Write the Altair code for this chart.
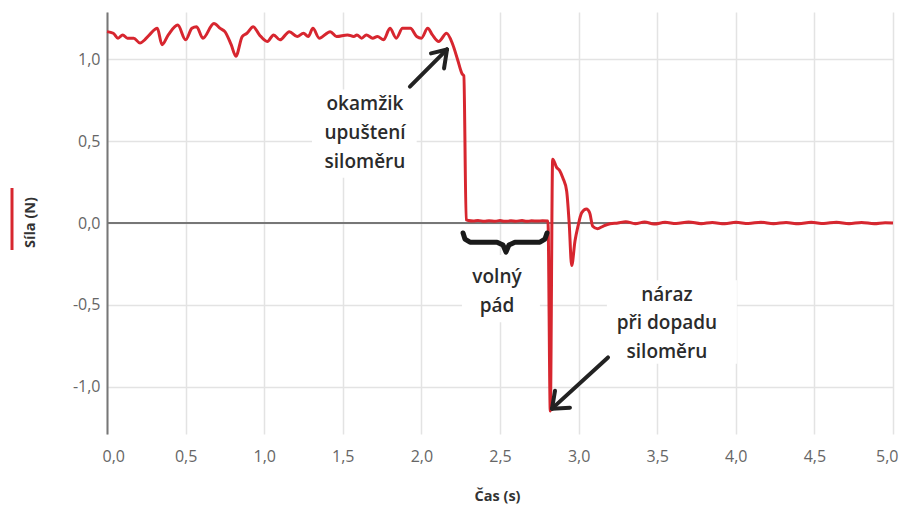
import altair as alt
import pandas as pd

# ---- measured series (time in s, force in N) ----
TIME = [0.00, 0.04, 0.07, 0.10, 0.13, 0.17, 0.21, 0.24, 0.27, 0.32, 0.35, 0.39, 0.45, 0.50,
        0.54, 0.57, 0.61, 0.68, 0.72, 0.75, 0.79, 0.82, 0.86, 0.89, 0.93, 0.97, 1.02, 1.06,
        1.10, 1.16, 1.21, 1.25, 1.28, 1.31, 1.35, 1.42, 1.46, 1.53, 1.57, 1.59, 1.62, 1.65,
        1.69, 1.72, 1.76, 1.80, 1.84, 1.88, 1.93, 1.97, 2.00, 2.04, 2.07, 2.11, 2.16, 2.20,
        2.23, 2.26, 2.27, 2.285, 2.30, 2.33, 2.36, 2.40, 2.43, 2.47, 2.50, 2.53, 2.57, 2.60,
        2.64, 2.67, 2.70, 2.74, 2.77, 2.805, 2.82, 2.835, 2.86, 2.88, 2.90, 2.924, 2.94,
        2.956, 2.977, 2.996, 3.02, 3.05, 3.07, 3.09, 3.12, 3.155, 3.20, 3.25, 3.30, 3.36,
        3.42, 3.48, 3.55, 3.62, 3.70, 3.78, 3.85, 3.93, 4.00, 4.08, 4.16, 4.24, 4.32, 4.40,
        4.48, 4.56, 4.64, 4.72, 4.80, 4.88, 4.95, 5.00]
FORCE = [1.17, 1.16, 1.13, 1.15, 1.13, 1.13, 1.10, 1.12, 1.15, 1.19, 1.09, 1.15, 1.21, 1.12,
         1.19, 1.20, 1.13, 1.22, 1.19, 1.17, 1.09, 1.02, 1.14, 1.16, 1.20, 1.15, 1.11, 1.15,
         1.12, 1.17, 1.14, 1.16, 1.14, 1.19, 1.13, 1.17, 1.14, 1.15, 1.14, 1.15, 1.13, 1.15,
         1.13, 1.14, 1.12, 1.19, 1.13, 1.19, 1.19, 1.14, 1.13, 1.19, 1.15, 1.11, 1.16, 1.09,
         1.00, 0.91, 0.90, 0.02, 0.015, 0.012, 0.016, 0.010, 0.014, 0.011, 0.015, 0.010, 0.013,
         0.011, 0.015, 0.010, 0.013, 0.012, 0.014, 0.012, -1.15, 0.39, 0.34, 0.32, 0.275,
         0.196, 0.0, -0.26, -0.11, -0.02, 0.063, 0.085, 0.063, -0.02, -0.035, -0.02, -0.005,
         0.0, 0.008, -0.004, 0.006, -0.006, 0.004, -0.003, 0.006, -0.004, 0.003, -0.005,
         0.004, -0.003, 0.005, -0.004, 0.003, -0.005, 0.004, -0.003, 0.005, -0.004, 0.003,
         -0.004, 0.002, 0.0]

X_TICKS = [0.0, 0.5, 1.0, 1.5, 2.0, 2.5, 3.0, 3.5, 4.0, 4.5, 5.0]
Y_TICKS = [-1.0, -0.5, 0.0, 0.5, 1.0]

# ---- annotations ----
ANN_TEXT = ["okamžik", "upuštení", "siloměru", "volný", "pád", "náraz", "při dopadu", "siloměru"]
ANN_T = [1.641, 1.641, 1.641, 2.481, 2.481, 3.562, 3.562, 3.562]
ANN_F = [0.730, 0.552, 0.374, -0.331, -0.509, -0.442, -0.613, -0.791]

# white boxes behind annotation text
BOX_T0 = [1.304, 2.258, 3.180]
BOX_T1 = [1.970, 2.754, 4.007]
BOX_F0 = [0.276, -0.196, -0.350]
BOX_F1 = [0.816, -0.607, -0.860]

# arrow segments (shaft + two head wings for each arrow)
ARR_T0 = [1.927, 2.163, 2.163, 3.187, 2.831, 2.831]
ARR_F0 = [0.834, 1.061, 1.061, -0.822, -1.135, -1.135]
ARR_T1 = [2.163, 2.061, 2.144, 2.831, 2.945, 2.850]
ARR_F1 = [1.061, 1.037, 0.945, -1.135, -1.129, -1.025]

# curly brace under the free fall part
BRACE_T = [2.265, 2.277, 2.309, 2.481, 2.519, 2.538, 2.557, 2.595, 2.754, 2.786, 2.799]
BRACE_F = [-0.061, -0.098, -0.117, -0.117, -0.135, -0.178, -0.135, -0.117, -0.117, -0.098, -0.061]

RED = "#d7262f"
FONT = "Open Sans"

line_df = pd.DataFrame({"t": TIME, "f": FORCE})
ann_df = pd.DataFrame({"t": ANN_T, "f": ANN_F, "label": ANN_TEXT})
box_df = pd.DataFrame({"t": BOX_T0, "t1": BOX_T1, "f": BOX_F0, "f1": BOX_F1})
arr_df = pd.DataFrame({"t": ARR_T0, "t1": ARR_T1, "f": ARR_F0, "f1": ARR_F1})
brace_df = pd.DataFrame({"t": BRACE_T, "f": BRACE_F, "i": list(range(len(BRACE_T)))})
zero_df = pd.DataFrame({"f": [0.0]})
mark_df = pd.DataFrame({"a": [0]})

xs = alt.Scale(domain=[0, 5], nice=False, zero=False)
ys = alt.Scale(domain=[-1.29, 1.29], nice=False, zero=False)
lab = "replace(replace(format(datum.value, '.1f'), '.', ','), '\u2212', '-')"

x_axis = alt.Axis(values=X_TICKS, labelExpr=lab, title="Čas (s)", grid=True,
                  gridColor="#e3e3e3", gridWidth=1.5, domain=False, ticks=False,
                  labelFlush=True, labelFlushOffset=5, labelPadding=14, labelFontSize=16,
                  labelColor="#666666", labelFont=FONT, titleFont=FONT, titleFontSize=14.5,
                  titleFontWeight="bold", titleColor="#333333", titleX=390, titleY=62,
                  titleBaseline="middle", titleAlign="center")
y_axis = alt.Axis(values=Y_TICKS, labelExpr=lab, title="Síla (N)", grid=True,
                  gridColor="#e3e3e3", gridWidth=1.5, domain=True, domainColor="#777777",
                  domainWidth=2, ticks=False, labelFlush=False, labelPadding=7,
                  labelFontSize=16, labelColor="#666666", labelFont=FONT, titleFont=FONT,
                  titleFontSize=14.5, titleFontWeight="bold", titleColor="#333333",
                  titleX=-77, titleY=210, titleAngle=270, titleBaseline="middle",
                  titleAlign="center")

X = alt.X("t:Q", scale=xs, axis=x_axis, title="Čas (s)")
Y = alt.Y("f:Q", scale=ys, axis=y_axis, title="Síla (N)")

base_line = alt.Chart(line_df).mark_line(color=RED, strokeWidth=3, strokeJoin="round",
                                         interpolate="monotone").encode(
    x=X, y=Y, order="t:Q",
)

boxes = alt.Chart(box_df).mark_rect(color="white").encode(
    x=X, x2="t1:Q", y=Y, y2="f1:Q",
)

zero = alt.Chart(zero_df).mark_rule(color="#777777", strokeWidth=2).encode(y=Y)

texts = alt.Chart(ann_df).mark_text(font=FONT, fontSize=19, fontWeight=600, color="#2b2b2b",
                                    align="center", baseline="middle").encode(
    x=X, y=Y, text="label:N",
)

arrows = alt.Chart(arr_df).mark_rule(color="#222222", strokeWidth=4, strokeCap="round").encode(
    x=X, x2="t1:Q", y=Y, y2="f1:Q",
)

brace = alt.Chart(brace_df).mark_line(color="#1a1a1a", strokeWidth=5, strokeJoin="round",
                                      strokeCap="round").encode(
    x=X, y=Y, order="i:Q",
)

legend_mark = alt.Chart(mark_df).mark_rule(color=RED, strokeWidth=3).encode(
    x=alt.value(-95), y=alt.value(176), y2=alt.value(238)
)

chart = alt.layer(boxes, zero, base_line, texts, arrows, brace, legend_mark).properties(
    width=786, height=422,
    autosize=alt.AutoSizeParams(type="none"),
    padding={"left": 99, "top": 4, "right": 7, "bottom": 73},
    background="white",
).configure_view(stroke=None)

chart.save("out.html", embed_options={"renderer": "svg", "actions": False})
